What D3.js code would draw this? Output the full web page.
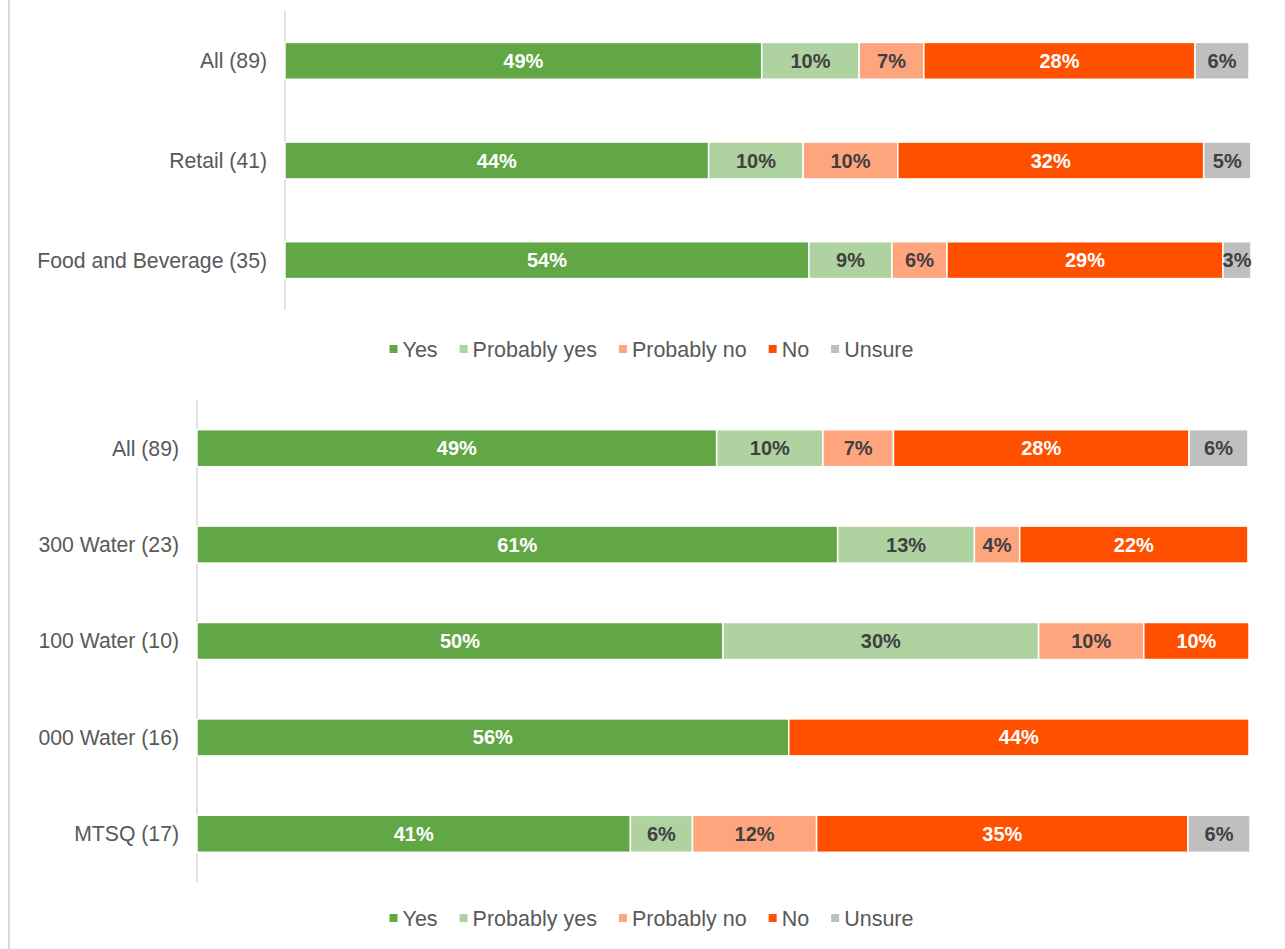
<html>
<head>
<meta charset="utf-8">
<style>
  body { margin: 0; background: #fff; }
  svg { display: block; font-family: "Liberation Sans", Arial, sans-serif; }
</style>
</head>
<body>
<div id="chart"></div>
<script src="https://cdn.jsdelivr.net/npm/d3@7"></script>
<script>
'use strict';

// answer keys and colours
var answers = ['Yes', 'Probably yes', 'Probably no', 'No', 'Unsure'];
var colours = ['#62a745', '#aed3a0', '#ffa57e', '#ff5000', '#bfbfbf'];
var labelInk = ['#ffffff', '#404040', '#404040', '#ffffff', '#404040'];

// top chart: by sector (percent of respondents)
var sectorCats = ['All (89)', 'Retail (41)', 'Food and Beverage (35)'];
var sectorYes      = [49.4, 43.9, 54.3];
var sectorProbYes  = [10.1,  9.8,  8.6];
var sectorProbNo   = [ 6.7,  9.8,  5.7];
var sectorNo       = [28.1, 31.7, 28.6];
var sectorUnsure   = [ 5.6,  4.9,  2.9];

// bottom chart: by water group
var waterCats = ['All (89)', '300 Water (23)', '100 Water (10)', '000 Water (16)', 'MTSQ (17)'];
var waterYes      = [49.4, 60.9, 50, 56.25, 41.2];
var waterProbYes  = [10.1, 13.0, 30,  0,     5.9];
var waterProbNo   = [ 6.7,  4.3, 10,  0,    11.8];
var waterNo       = [28.1, 21.7, 10, 43.75, 35.3];
var waterUnsure   = [ 5.6,  0,    0,  0,     5.9];

var W = 1285, H = 949;
var svg = d3.select('#chart').append('svg').attr('width', W).attr('height', H);

// outer left border line
svg.append('line')
  .attr('x1', 9).attr('x2', 9).attr('y1', 0).attr('y2', H)
  .attr('stroke', '#d9d9d9').attr('stroke-width', 2);

function rows(cats, series) {
  return cats.map(function(c, i) {
    var r = { cat: c };
    answers.forEach(function(a, j) { r[a] = series[j][i]; });
    return r;
  });
}

function drawChart(cats, series, box) {
  var data = rows(cats, series);
  var stack = d3.stack().keys(answers)(data);

  var x = d3.scaleLinear().domain([0, 100]).range([box.left, box.right]);
  var y = d3.scaleBand().domain(cats).range([box.top, box.bottom])
    .paddingInner(box.pad).paddingOuter(box.pad / 2);

  var g = svg.append('g');

  g.append('line')
    .attr('x1', box.left).attr('x2', box.left)
    .attr('y1', box.top).attr('y2', box.bottom)
    .attr('stroke', '#d9d9d9').attr('stroke-width', 1.5);

  g.selectAll('text.cat')
    .data(cats).enter().append('text')
    .attr('class', 'cat')
    .attr('x', box.left - 18)
    .attr('y', function(d) { return y(d) + y.bandwidth() / 2; })
    .attr('dy', '0.35em')
    .attr('text-anchor', 'end')
    .attr('font-size', 21.2)
    .attr('fill', '#595959')
    .text(function(d) { return d; });

  var layer = g.selectAll('g.layer')
    .data(stack).enter().append('g')
    .attr('class', 'layer')
    .attr('fill', function(d, i) { return colours[i]; });

  layer.selectAll('rect')
    .data(function(d) { return d.filter(function(s) { return s[1] - s[0] > 0; }); })
    .enter().append('rect')
    .attr('x', function(d) { return x(d[0]); })
    .attr('y', function(d) { return y(d.data.cat); })
    .attr('width', function(d) { return x(d[1]) - x(d[0]); })
    .attr('height', y.bandwidth())
    .attr('stroke', '#fff')
    .attr('stroke-width', 1.5);

  layer.each(function(ld, li) {
    d3.select(this).selectAll('text')
      .data(ld.filter(function(s) { return s[1] - s[0] > 0; }))
      .enter().append('text')
      .attr('x', function(d) { return (x(d[0]) + x(d[1])) / 2; })
      .attr('y', function(d) { return y(d.data.cat) + y.bandwidth() / 2; })
      .attr('dy', '0.35em')
      .attr('text-anchor', 'middle')
      .attr('font-size', 20)
      .attr('font-weight', 'bold')
      .attr('fill', labelInk[li])
      .text(function(d) { return Math.round(d[1] - d[0]) + '%'; });
  });

  // legend
  var lg = g.append('g');
  var cx = 0;
  answers.forEach(function(a, i) {
    var item = lg.append('g').attr('transform', 'translate(' + cx + ',0)');
    item.append('rect')
      .attr('x', 0).attr('y', -4).attr('width', 8).attr('height', 8)
      .attr('fill', colours[i]);
    var t = item.append('text')
      .attr('x', 13).attr('dy', '0.35em')
      .attr('font-size', 21.5)
      .attr('fill', '#595959')
      .text(a);
    cx += 13 + t.node().getComputedTextLength() + 22;
  });
  var lw = cx - 22;
  lg.attr('transform', 'translate(' + (651.5 - lw / 2) + ',' + box.legendY + ')');
}

drawChart(sectorCats,
  [sectorYes, sectorProbYes, sectorProbNo, sectorNo, sectorUnsure],
  { left: 285, right: 1250, top: 11, bottom: 310, pad: 0.63, legendY: 349 });

drawChart(waterCats,
  [waterYes, waterProbYes, waterProbNo, waterNo, waterUnsure],
  { left: 197, right: 1249, top: 400, bottom: 882, pad: 0.616, legendY: 918 });
</script>
</body>
</html>
